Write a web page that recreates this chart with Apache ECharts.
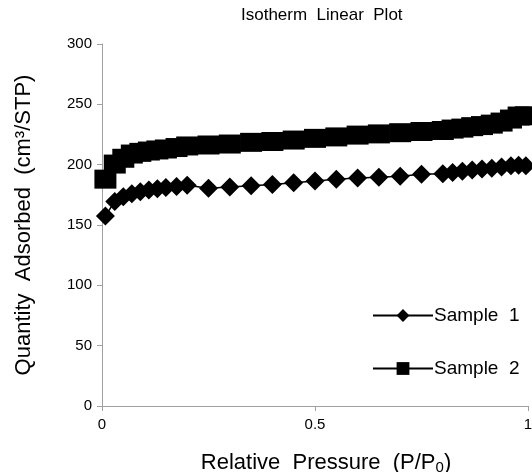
<!DOCTYPE html>
<html><head><meta charset="utf-8">
<script src="https://cdn.jsdelivr.net/npm/echarts@6/dist/echarts.min.js"></script>
<style>html,body{margin:0;padding:0;background:#fff}#c{width:532px;height:472px}</style>
</head><body><div id="c"></div>
<script>
const pressure = [0.008, 0.03, 0.05, 0.07, 0.09, 0.11, 0.13, 0.15, 0.175, 0.2, 0.25, 0.3, 0.35, 0.4, 0.45, 0.5, 0.55, 0.6, 0.65, 0.7, 0.75, 0.8, 0.823, 0.846, 0.869, 0.892, 0.915, 0.938, 0.96, 0.978, 0.995];
const sample1 = [157.5, 169.5, 173.5, 176, 177.5, 179, 180, 181, 182, 183, 180.5, 181.5, 182.5, 183.5, 185, 186.5, 188, 189, 189.5, 190.5, 192, 192.5, 193.5, 194.5, 195.5, 196.5, 197, 198, 199, 199.5, 199];
const sample2 = [188, 200.5, 205.3, 208.8, 210.2, 211.3, 212.2, 213, 214.2, 215.5, 216.3, 217.1, 218.5, 219.2, 220.4, 221.8, 223, 224.5, 225.5, 226.5, 227.5, 228.3, 229.5, 230.3, 231.5, 232.4, 233.6, 235.3, 237.8, 240.3, 240.5];
const seriesNames = ['Sample  1', 'Sample  2'];
const xTickLabels = {0: '0', 0.5: '0.5', 1: '1'};
const titleText = 'Isotherm  Linear  Plot';
const yAxisTitle = 'Quantity  Adsorbed  (cm³/STP)';

const FONT = '"Liberation Sans", Arial, sans-serif';
const chart = echarts.init(document.getElementById('c'), null, {renderer: 'canvas'});
const pairs = (xs, ys) => xs.map((x, i) => [x, ys[i]]);
chart.setOption({
  animation: false,
  backgroundColor: '#fff',
  textStyle: {fontFamily: FONT},
  title: {
    text: titleText, left: 236, top: 2,
    textStyle: {fontSize: 17, fontWeight: 'normal', color: '#000', fontFamily: FONT}
  },
  grid: {left: 102, right: 4, top: 44, bottom: 66, containLabel: false, outerBoundsMode: 'none'},
  legend: {
    orient: 'vertical', left: 367, top: 301, itemGap: 34,
    itemWidth: 60, itemHeight: 16,
    textStyle: {fontSize: 19, color: '#000', fontFamily: FONT, padding: [0, 0, 0, -4]},
    data: seriesNames
  },
  xAxis: {
    type: 'value', min: 0, max: 1, interval: 0.5,
    name: '{a|Relative  Pressure  (P/P}{b|0}{a|)}',
    nameLocation: 'middle', nameGap: 45,
    nameTextStyle: {padding: [0, 0, 0, 22], rich: {
      a: {fontSize: 22, color: '#000', fontFamily: FONT, lineHeight: 24},
      b: {fontSize: 15, color: '#000', fontFamily: FONT, lineHeight: 24, verticalAlign: 'bottom', padding: [8, 0, 0, 0]}
    }},
    axisLine: {lineStyle: {color: '#a0a0a0', width: 1}},
    axisTick: {show: true, length: 5, lineStyle: {color: '#a0a0a0'}},
    axisLabel: {fontSize: 15, color: '#000', margin: 11, fontFamily: FONT,
      formatter: v => xTickLabels[v] !== undefined ? xTickLabels[v] : ''},
    splitLine: {show: false}
  },
  yAxis: {
    type: 'value', min: 0, max: 300, interval: 50,
    name: yAxisTitle, nameLocation: 'middle', nameGap: 67, nameRotate: 90,
    nameTextStyle: {fontSize: 22, color: '#000', fontFamily: FONT},
    axisLine: {show: true, lineStyle: {color: '#a0a0a0', width: 1}},
    axisTick: {show: true, length: 5, lineStyle: {color: '#a0a0a0'}},
    axisLabel: {fontSize: 15, color: '#000', margin: 10, fontFamily: FONT},
    splitLine: {show: false}
  },
  series: [
    {
      name: seriesNames[0], type: 'line', data: pairs(pressure, sample1),
      symbol: 'diamond', symbolSize: 19, showSymbol: true,
      lineStyle: {color: '#000', width: 1.5},
      itemStyle: {color: '#000', borderWidth: 0}
    },
    {
      name: seriesNames[1], type: 'line', data: pairs(pressure, sample2),
      symbol: 'rect', symbolSize: [22, 19], showSymbol: true,
      lineStyle: {color: '#000', width: 1.5},
      itemStyle: {color: '#000', borderWidth: 0}
    }
  ]
});
</script>
</body></html>
